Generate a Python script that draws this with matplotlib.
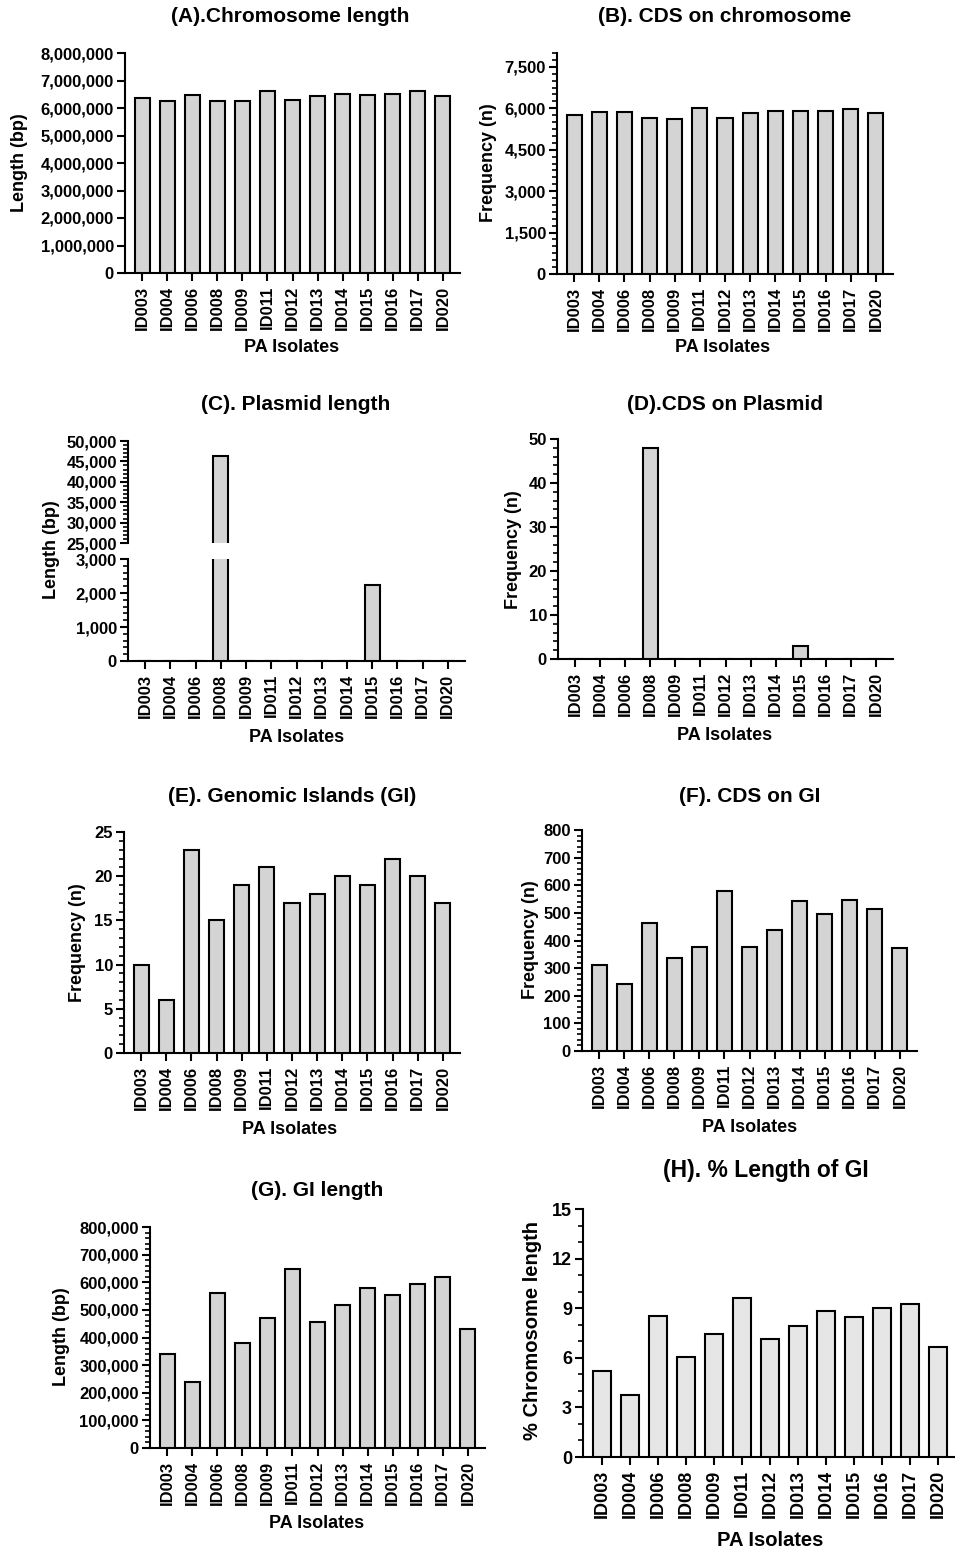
import matplotlib
matplotlib.use("Agg")
import matplotlib.pyplot as plt
from matplotlib.ticker import MultipleLocator, FuncFormatter

plt.rcParams['font.family'] = ['Liberation Sans', 'DejaVu Sans']
plt.rcParams['font.weight'] = 'bold'

W, H = 955, 1552

# data
isolates = ["ID003", "ID004", "ID006", "ID008", "ID009", "ID011", "ID012",
            "ID013", "ID014", "ID015", "ID016", "ID017", "ID020"]
chrom_len = [6360000, 6240000, 6480000, 6240000, 6240000, 6630000, 6300000,
             6420000, 6510000, 6480000, 6510000, 6630000, 6420000]
cds_chrom = [5760, 5856, 5880, 5640, 5616, 6012, 5652, 5820, 5904, 5892, 5904, 5976, 5844]
plasmid_len = [0, 0, 0, 46250, 0, 0, 0, 0, 0, 2240, 0, 0, 0]
cds_plasmid = [0, 0, 0, 48, 0, 0, 0, 0, 0, 3, 0, 0, 0]
gi_count = [10, 6, 23, 15, 19, 21, 17, 18, 20, 19, 22, 20, 17]
cds_gi = [313, 243, 463, 338, 377, 580, 377, 437, 543, 495, 545, 514, 372]
gi_len = [340000, 239000, 560000, 380000, 471000, 647000, 456000, 518000,
          579000, 555000, 595000, 618000, 430000]
gi_pct = [5.23, 3.74, 8.53, 6.04, 7.43, 9.62, 7.13, 7.92, 8.83, 8.44, 9.01, 9.23, 6.65]

n = len(isolates)
fill = '#d4d4d4'
comma = FuncFormatter(lambda v, p: f"{v:,.0f}")

fig = plt.figure(figsize=(W / 100, H / 100), dpi=100)


def ax_at(l, t, r, b):
    # pixel box -> figure coords
    return fig.add_axes([l / W, 1 - b / H, (r - l) / W, (b - t) / H])


def style(ax, ylim, major, minor=None, fs=12, xticks=True):
    ax.set_ylim(*ylim)
    ax.set_xlim(-0.68, n - 1 + 0.68)
    ax.patch.set_alpha(0)
    for s in ['top', 'right']:
        ax.spines[s].set_visible(False)
    for s in ['left', 'bottom']:
        ax.spines[s].set_linewidth(1.5)
    ax.yaxis.set_major_locator(MultipleLocator(major))
    if minor:
        ax.yaxis.set_minor_locator(MultipleLocator(minor))
    ax.yaxis.set_major_formatter(comma)
    ax.tick_params(axis='y', which='major', length=6, width=1.5, labelsize=fs, pad=2)
    ax.tick_params(axis='y', which='minor', length=3.5, width=1.2)
    if xticks:
        ax.set_xticks(range(n))
        ax.set_xticklabels(isolates, rotation=90)
        ax.tick_params(axis='x', length=6, width=1.5, labelsize=fs, pad=3)
    else:
        ax.set_xticks([])
        ax.spines['bottom'].set_visible(False)


def bars(ax, vals, color=fill, width=0.6):
    ax.bar(range(n), vals, width=width, color=color, edgecolor='black', linewidth=1.5, zorder=3)


def label(x, y, s, size=13, rot=0):
    fig.text(x / W, 1 - y / H, s, ha='center', va='center', fontsize=size,
             fontweight='bold', rotation=rot)


# (A)
ax = ax_at(125, 53, 460, 273)
bars(ax, chrom_len)
style(ax, (0, 8000000), 1000000)
label(290, 17, "(A).Chromosome length", 15)
label(20, 163, "Length (bp)", 13, 90)
label(292, 348, "PA Isolates", 13)

# (B)
ax = ax_at(557, 53, 893, 274)
bars(ax, cds_chrom)
style(ax, (0, 8000), 1500, 250)
label(725, 17, "(B). CDS on chromosome", 15)
label(488, 163, "Frequency (n)", 13, 90)
label(723, 348, "PA Isolates", 13)

# (C) broken axis
ax_top = ax_at(128, 441, 465, 543)
bars(ax_top, plasmid_len)
style(ax_top, (25000, 50000), 5000, 1000, xticks=False)
ax = ax_at(128, 559, 465, 661)
bars(ax, plasmid_len)
style(ax, (0, 3000), 1000, 200)
label(296, 405, "(C). Plasmid length", 15)
label(52, 550, "Length (bp)", 13, 90)
label(297, 737, "PA Isolates", 13)

# (D)
ax = ax_at(558, 439, 893, 659)
bars(ax, cds_plasmid)
style(ax, (0, 50), 10, 2)
label(725, 404, "(D).CDS on Plasmid", 15)
label(513, 550, "Frequency (n)", 13, 90)
label(725, 735, "PA Isolates", 13)

# (E)
ax = ax_at(124, 832, 460, 1053)
bars(ax, gi_count)
style(ax, (0, 25), 5, 1)
label(292, 797, "(E). Genomic Islands (GI)", 15)
label(77, 943, "Frequency (n)", 13, 90)
label(290, 1129, "PA Isolates", 13)

# (F)
ax = ax_at(582, 830, 917, 1051)
bars(ax, cds_gi)
style(ax, (0, 800), 100, 20)
label(750, 797, "(F). CDS on GI", 15)
label(530, 940, "Frequency (n)", 13, 90)
label(750, 1127, "PA Isolates", 13)

# (G)
ax = ax_at(150, 1227, 485, 1448)
bars(ax, gi_len)
style(ax, (0, 800000), 100000, 20000)
label(317, 1191, "(G). GI length", 15)
label(62, 1337, "Length (bp)", 13, 90)
label(317, 1523, "PA Isolates", 13)

# (H)
ax = ax_at(583, 1209, 957, 1457)
bars(ax, gi_pct, color='#e6e6e6', width=0.64)
style(ax, (0, 15), 3, 1, fs=13)
label(766, 1170, "(H). % Length of GI", 16.5)
label(532, 1330, "% Chromosome length", 14.5, 90)
label(770, 1540, "PA Isolates", 14.5)

fig.savefig("out.png", dpi=100)
